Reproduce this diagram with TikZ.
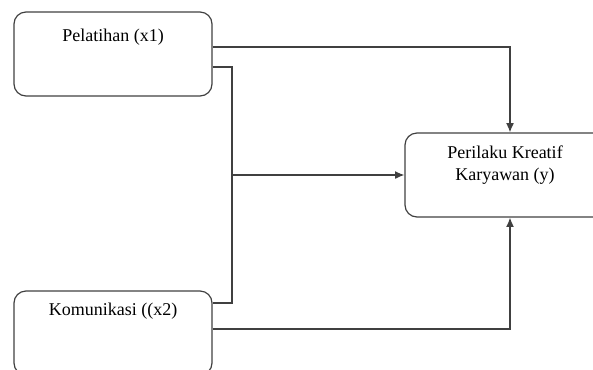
\documentclass[tikz,border=0pt]{standalone}
\usepackage{fontspec}
\setmainfont{Liberation Serif}
\usetikzlibrary{calc,arrows.meta}
\begin{document}
\begin{tikzpicture}[x=0.75pt,y=-0.75pt,
  box/.style={draw=black!75, line width=0.9pt, rounded corners=9pt, inner sep=0pt},
  lbl/.style={font=\fontsize{13.5pt}{17pt}\selectfont, align=center, inner sep=0pt},
  conn/.style={draw=black!75, line width=1pt},
  arr/.style={conn, -{Latex[length=7pt,width=6pt]}}]
\useasboundingbox (0,0) rectangle (593,369);
\clip (0,0) rectangle (593,369);
\node[box, minimum width=148.5pt, minimum height=63pt] (p) at (113,54) {};
\node[box, minimum width=148.5pt, minimum height=63pt] (k) at (113,333) {};
\node[box, minimum width=157.5pt, minimum height=63pt] (t) at (510,175) {};
\node[lbl] (pl) at (113,37) {Pelatihan (x1)};
\node[lbl] (kl) at (113,311) {Komunikasi ((x2)};
\node[lbl] (tl) at (505,165) {Perilaku Kreatif\\Karyawan (y)};
\coordinate (j) at (232,175);
\draw[arr] ($(p.east)+(0,-7)$) -| (t.north);
\draw[conn] ($(p.east)+(0,13)$) -| (j) |- ($(k.east)+(0,-30)$);
\draw[arr] (j) -- (t.west);
\draw[arr] ($(k.east)+(0,-4)$) -| (t.south);
\end{tikzpicture}
\end{document}
